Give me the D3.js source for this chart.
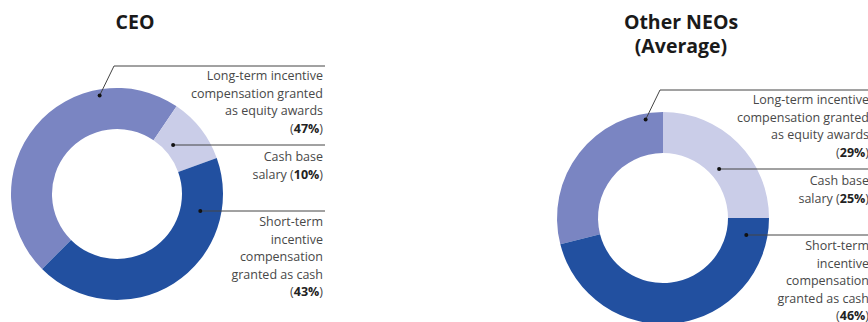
<!DOCTYPE html>
<html>
<head>
<meta charset="utf-8">
<script src="https://cdn.jsdelivr.net/npm/d3@7"></script>
<style>
  html, body { margin: 0; padding: 0; background: #fff; }
  svg { display: block; }
  text { font-family: "Open Sans", sans-serif; }
</style>
</head>
<body>
<svg id="chart" width="868" height="322"></svg>
<script>
// ---- data ----
const categories = ["Long-term incentive compensation granted as equity awards", "Cash base salary", "Short-term incentive compensation granted as cash"];
const chartTitles = [["CEO"], ["Other NEOs", "(Average)"]];
const ceoValues = [47, 10, 43];
const neoValues = [29, 25, 46];
// label text lines for each category (before the percentage)
const labelLines = [
  ["Long-term incentive", "compensation granted", "as equity awards", ""],
  ["Cash base", "salary "],
  ["Short-term", "incentive", "compensation", "granted as cash", ""]
];
const colors = ["#7a85c2", "#cacde8", "#2250a0"];

// ---- layout ----
const svg = d3.select("#chart");
const charts = [
  { titles: chartTitles[0], values: ceoValues, cx: 117, cy: 194, start: -135 },
  { titles: chartTitles[1], values: neoValues, cx: 663, cy: 218, start: -104.4 }
];
const outerR = 106, innerR = 65;
// leader layout relative to donut centre: line y, dot radius, first text baseline
const leaders = [
  { lineY: -128, dotR: 100, dotAngle: -10, elbowX: -3, textY: -114 },
  { lineY: -49,  dotR: 74.5, textY: -33 },
  { lineY: 17,   dotR: 85,  textY: 32 }
];
const lineEnd = 208, textRight = 206, lineH = 17.5;

charts.forEach(c => {
  const g = svg.append("g").attr("transform", `translate(${c.cx},${c.cy})`);
  const pie = d3.pie().sort(null).value(d => d)
    .startAngle(c.start * Math.PI / 180)
    .endAngle(c.start * Math.PI / 180 + 2 * Math.PI);
  const arc = d3.arc().innerRadius(innerR).outerRadius(outerR);
  const arcs = pie(c.values);
  g.selectAll("path.slice").data(arcs).join("path")
    .attr("class", "slice")
    .attr("d", arc)
    .attr("fill", (d, i) => colors[i]);

  // titles
  const titleTop = 28.5;
  c.titles.forEach((t, i) => {
    svg.append("text")
      .attr("x", c.cx + 18)
      .attr("y", titleTop + i * 24.5)
      .attr("text-anchor", "middle")
      .attr("font-size", 19.5)
      .attr("font-weight", 700)
      .attr("fill", "#1a1a1a")
      .text(t);
  });

  // leaders + labels
  leaders.forEach((L, i) => {
    let dx, dy;
    if (L.dotAngle !== undefined) {
      const a = L.dotAngle * Math.PI / 180;
      dx = L.dotR * Math.sin(a); dy = -L.dotR * Math.cos(a);
    } else {
      dy = L.lineY;
      dx = Math.sqrt(L.dotR * L.dotR - dy * dy);
    }
    let pts;
    if (L.elbowX !== undefined) pts = [[dx, dy], [L.elbowX, L.lineY], [lineEnd, L.lineY]];
    else pts = [[dx, dy], [lineEnd, L.lineY]];
    g.append("path")
      .attr("d", d3.line()(pts))
      .attr("fill", "none")
      .attr("stroke", "#444")
      .attr("stroke-width", 1);
    g.append("circle").attr("cx", dx).attr("cy", dy).attr("r", 2).attr("fill", "#111");

    const lines = labelLines[i];
    const txt = g.append("text")
      .attr("text-anchor", "end")
      .attr("font-size", 12.5)
      .attr("fill", "#484848");
    lines.forEach((ln, j) => {
      const ts = txt.append("tspan").attr("x", textRight).attr("y", L.textY + j * lineH);
      const isLast = j === lines.length - 1;
      ts.append("tspan").text(ln);
      if (isLast) {
        ts.append("tspan").text("(");
        ts.append("tspan").attr("font-weight", 700).attr("fill", "#222").text(c.values[i] + "%");
        ts.append("tspan").text(")");
      }
    });
  });
});
</script>
</body>
</html>
